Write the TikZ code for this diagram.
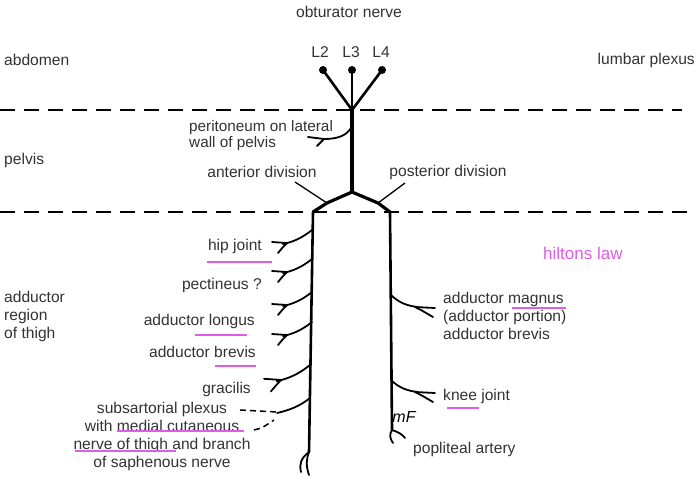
\documentclass[tikz,border=0pt]{standalone}
\usepackage{fontspec}
\setmainfont{Liberation Sans}
\definecolor{txt}{HTML}{333333}
\definecolor{mag}{HTML}{E15BEA}
\begin{document}
\begin{tikzpicture}[x=1pt,y=-1pt,
  lbl/.style={font=\fontsize{15.6}{18}\selectfont, text=txt, inner sep=0pt},
  nerve/.style={line width=1.8pt, line cap=round, line join=round},
  trunk/.style={line width=2.6pt, line cap=round},
  stem/.style={line width=4.4pt},
  lead/.style={line width=1.3pt},
  dashline/.style={line width=1.7pt, dash pattern=on 15pt off 9pt},
  shortdash/.style={line width=1.5pt, dash pattern=on 6pt off 4pt},
  uline/.style={mag, line width=2.8pt},
  lbr/.pic={
    \draw[nerve] (0,0) .. controls (-10,8) and (-19,12) .. (-29,14);
    \draw[nerve] (-25,13) -- (-40,12);
    \draw[nerve] (-25,13) .. controls (-29,17) .. (-34,23);
  },
  rbr/.pic={
    \draw[nerve] (0,0) .. controls (8,8) and (17,11) .. (27,12);
    \draw[nerve] (24,12) -- (44,13);
    \draw[nerve] (24,12) .. controls (30,15) .. (42,22);
  }]
\useasboundingbox (0,0) rectangle (698,487);
\fill[white] (0,0) rectangle (698,487);

% dashed boundaries
\draw[dashline] (0,110) -- (682,110);
\draw[dashline] (0,212) -- (692,212);

% roots
\coordinate (J) at (352,110);
\coordinate (F) at (352,192);
\coordinate (LT) at (313,212);
\coordinate (RT) at (390,212);
\node[circle, fill=black, inner sep=0pt, minimum size=8pt] (d2) at (323,70) {};
\node[circle, fill=black, inner sep=0pt, minimum size=8pt] (d3) at (352,70) {};
\node[circle, fill=black, inner sep=0pt, minimum size=8pt] (d4) at (382,70) {};
\draw[line width=2.6pt] (d2.center) -- (J);
\draw[line width=2.6pt] (d3.center) -- (J);
\draw[line width=2.6pt] (d4.center) -- (J);
\draw[stem] (J) -- (F);
\draw[line width=3.2pt, line join=round] (F) -- (327,203) -- (LT);
\draw[line width=3.2pt, line join=round] (F) -- (378,203) -- (RT);

% peritoneum branch
\draw[nerve] (351,128) .. controls (346,136) and (337,139) .. (324,139);
\draw[nerve] (324,139) -- (308,137);
\draw[nerve] (324,139) -- (317,146);

% trunks
\coordinate (LB) at (309,452);
\coordinate (RB) at (392,430);
\draw[trunk] (LT) -- (LB);
\draw[trunk] (RT) -- (RB);
\draw[nerve] (LB) .. controls (301,458) and (299,464) .. (301,472);
\draw[nerve] (LB) .. controls (306,460) and (306,466) .. (309,475);
\draw[nerve] (RB) .. controls (389,434) and (390,439) .. (393,443);
\draw[nerve] (RB) .. controls (398,432) and (402,434) .. (405,438);

% left branches
\pic at (312,230) {lbr};
\pic at (312,259) {lbr};
\pic at (312,292) {lbr};
\pic at (312,322) {lbr};
\pic[scale=1.15] at (310,365) {lbr};
\draw[nerve] (310,398) .. controls (300,406) and (290,410) .. (277,413);
\coordinate (S1) at (277,412);
\coordinate (S2) at (274,420);

% right branches
\pic at (391,295) {rbr};
\pic at (391,380) {rbr};

% labels
\node[lbl] (obt) at (349,12) {obturator nerve};
\node[lbl] (L2) at (320,52) {L2};
\node[lbl] (L3) at (351,52) {L3};
\node[lbl] (L4) at (381,52) {L4};
\node[lbl, anchor=west] (abd) at (4,60) {abdomen};
\node[lbl, anchor=east] (lum) at (695,60) {lumbar plexus};
\node[lbl, anchor=west] (pel) at (4,160) {pelvis};
\node[lbl, anchor=west, align=left, font=\fontsize{15.3}{16}\selectfont] (per) at (189,136) {peritoneum on lateral\\wall of pelvis};
\node[lbl] (ant) at (262,172) {anterior division};
\node[lbl] (post) at (448,172) {posterior division};
\draw[lead] (295,182) -- (327,203);
\draw[lead] (405,183) -- (378,203);
\node[lbl, font=\fontsize{17}{18}\selectfont, text=mag, anchor=west] (hil) at (543,253) {hiltons law};

\node[lbl, anchor=east] (hip) at (262,246) {hip joint};
\node[lbl, anchor=east] (pec) at (262,285) {pectineus ?};
\node[lbl, anchor=east] (lon) at (255,321) {adductor longus};
\node[lbl, anchor=east] (bre) at (256,352) {adductor brevis};
\node[lbl, anchor=east] (gra) at (251,389) {gracilis};
\node[lbl, align=center] (sub) at (162,436) {subsartorial plexus\\with medial cutaneous\\nerve of thigh and branch\\of saphenous nerve};
\draw[shortdash] (240,410) -- (S1);
\draw[shortdash] (254,430) .. controls (262,428) .. (S2);
\node[lbl, anchor=west, align=left] (reg) at (4,316) {adductor\\region\\of thigh};

\node[lbl, anchor=west, align=left] (mag) at (443,316) {adductor magnus\\(adductor portion)\\adductor brevis};
\node[lbl, anchor=west] (kne) at (443,396) {knee joint};
\node[lbl, anchor=west] (pop) at (413,449) {popliteal artery};
\node[font=\fontsize{16}{16}\selectfont\itshape, text=black, inner sep=0pt] (mf) at (404,417) {mF};

% underlines
\draw[uline] (207,262) -- (272,262);
\draw[uline] (195,335) -- (247,335);
\draw[uline] (215,366) -- (256,366);
\draw[uline] (512,308) -- (566,308);
\draw[uline] (447,408) -- (479,408);
\draw[uline] (117,431) -- (244,431);
\draw[uline] (75,451) -- (176,451);
\end{tikzpicture}
\end{document}
